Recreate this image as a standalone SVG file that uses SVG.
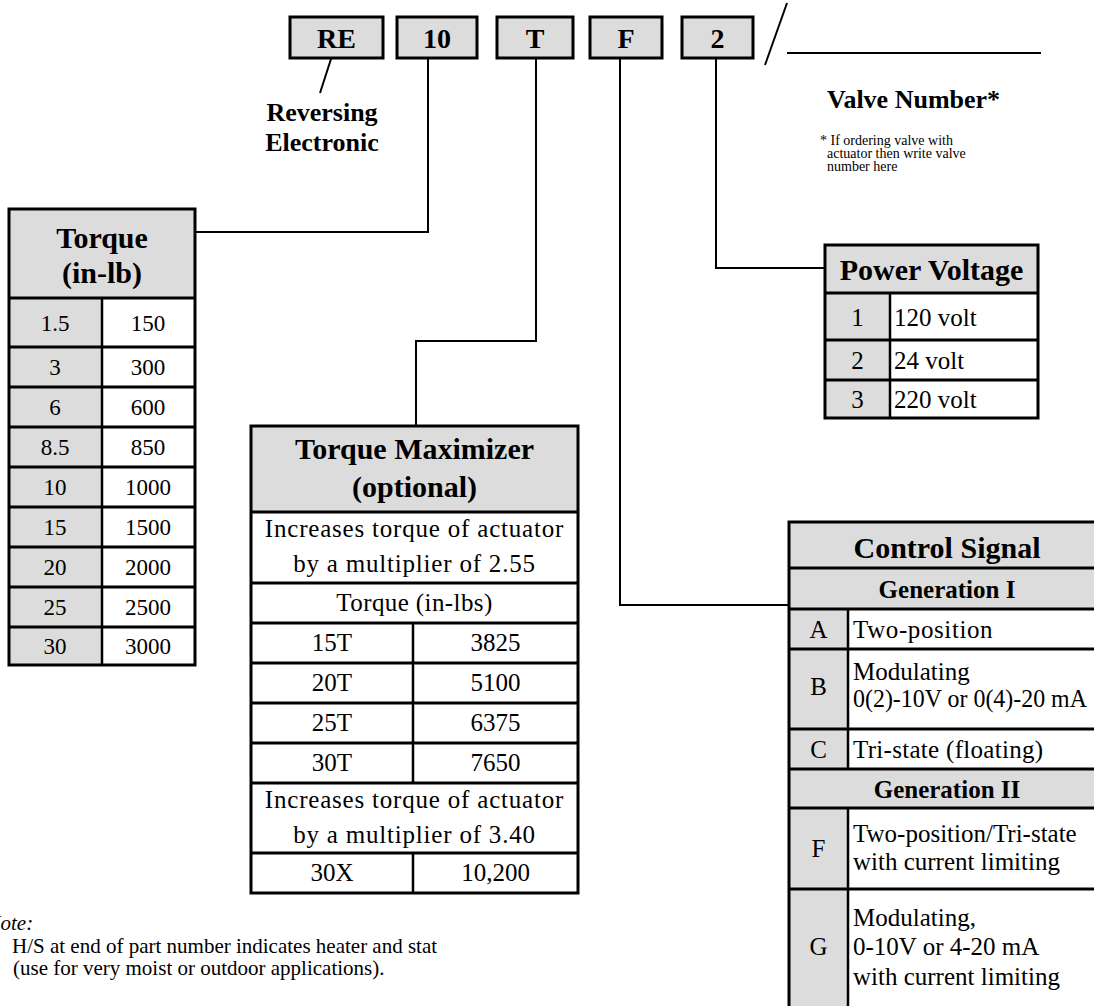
<svg xmlns="http://www.w3.org/2000/svg" width="1094" height="1006" viewBox="0 0 1094 1006">
<style>
.t{font-family:"Liberation Serif","Times New Roman",serif;fill:#000}
.b{font-weight:bold}
.c{text-anchor:middle}
.g{fill:#dcdcdc}
.frame{fill:none;stroke:#000;stroke-width:3}
.rule{fill:none;stroke:#000;stroke-width:3}
.div{fill:none;stroke:#000;stroke-width:2.5}
.box{fill:#dcdcdc;stroke:#000;stroke-width:3}
.conn{fill:none;stroke:#000;stroke-width:2}
.hd{font-size:30px}
.bd{font-size:25px}
.ls{letter-spacing:0.8px}
</style>
<rect width="1094" height="1006" fill="#fff"/>

<g id="connectors">
<path class="conn" d="M331,59L320,93"/>
<path class="conn" d="M428,58V232H188"/>
<path class="conn" d="M536,58V341H416V426"/>
<path class="conn" d="M620,58V605H789"/>
<path class="conn" d="M716,58V268H825"/>
</g>

<g id="box-RE"><rect class="box" x="290" y="17" width="93" height="41"/><text class="t b c" x="336.5" y="48" font-size="28">RE</text></g>
<g id="box-10"><rect class="box" x="397" y="17" width="80" height="41"/><text class="t b c" x="437" y="48" font-size="28">10</text></g>
<g id="box-T"><rect class="box" x="497" y="17" width="76" height="41"/><text class="t b c" x="535" y="48" font-size="28">T</text></g>
<g id="box-F"><rect class="box" x="590" y="17" width="72" height="41"/><text class="t b c" x="626" y="48" font-size="28">F</text></g>
<g id="box-2"><rect class="box" x="682" y="17" width="71" height="41"/><text class="t b c" x="717.5" y="48" font-size="28">2</text></g>

<g id="label-reversing">
<text class="t b c" x="322" y="121" font-size="26">Reversing</text>
<text class="t b c" x="322" y="151" font-size="26">Electronic</text>
</g>

<g id="valve-number">
<path class="conn" d="M787,3L765,65"/>
<path class="conn" d="M787,53H1041"/>
<text class="t b" x="827" y="108" font-size="26">Valve Number*</text>
<text class="t" x="820" y="145" font-size="14">* If ordering valve with</text>
<text class="t" x="827" y="158" font-size="14">actuator then write valve</text>
<text class="t" x="827" y="171" font-size="14">number here</text>
</g>

<g id="table-torque">
<rect class="g" x="9" y="209" width="186" height="89"/>
<rect class="g" x="9" y="298" width="93" height="367"/>
<rect class="frame" x="9" y="209" width="186" height="456"/>
<path class="rule" d="M9,298H195M9,347H195M9,387H195M9,427H195M9,467H195M9,507H195M9,547H195M9,587H195M9,627H195"/>
<path class="div" d="M102,298V665"/>
<text class="t b c hd" x="102" y="248">Torque</text>
<text class="t b c hd" x="102" y="283">(in-lb)</text>
<g class="t c" font-size="23">
<text x="55" y="331">1.5</text><text x="148" y="331">150</text>
<text x="55" y="375">3</text><text x="148" y="375">300</text>
<text x="55" y="415">6</text><text x="148" y="415">600</text>
<text x="55" y="455">8.5</text><text x="148" y="455">850</text>
<text x="55" y="495">10</text><text x="148" y="495">1000</text>
<text x="55" y="535">15</text><text x="148" y="535">1500</text>
<text x="55" y="575">20</text><text x="148" y="575">2000</text>
<text x="55" y="615">25</text><text x="148" y="615">2500</text>
<text x="55" y="654">30</text><text x="148" y="654">3000</text>
</g>
</g>

<g id="table-maximizer">
<rect class="g" x="251" y="426" width="327" height="86"/>
<rect class="frame" x="251" y="426" width="327" height="467"/>
<path class="rule" d="M251,512H578M251,583H578M251,623H578M251,663H578M251,703H578M251,743H578M251,783H578M251,853H578"/>
<path class="div" d="M413,623V783M413,853V893"/>
<text class="t b c hd" x="414.5" y="459">Torque Maximizer</text>
<text class="t b c hd" x="414.5" y="497">(optional)</text>
<g class="t c bd">
<text class="ls" x="414.5" y="537">Increases torque of actuator</text>
<text class="ls" x="414.5" y="572">by a multiplier of 2.55</text>
<text x="414.5" y="611" letter-spacing="0.4">Torque (in-lbs)</text>
<text x="332" y="651">15T</text><text x="495.5" y="651">3825</text>
<text x="332" y="691">20T</text><text x="495.5" y="691">5100</text>
<text x="332" y="731">25T</text><text x="495.5" y="731">6375</text>
<text x="332" y="771">30T</text><text x="495.5" y="771">7650</text>
<text class="ls" x="414.5" y="808">Increases torque of actuator</text>
<text class="ls" x="414.5" y="843">by a multiplier of 3.40</text>
<text x="332" y="881">30X</text><text x="495.5" y="881">10,200</text>
</g>
</g>

<g id="table-power">
<rect class="g" x="825" y="245" width="213" height="48"/>
<rect class="g" x="825" y="293" width="65" height="125"/>
<rect class="frame" x="825" y="245" width="213" height="173"/>
<path class="rule" d="M825,293H1038M825,340H1038M825,380H1038"/>
<path class="div" d="M890,293V418"/>
<text class="t b c hd" x="931.5" y="280">Power Voltage</text>
<g class="t bd">
<text class="c" x="857.5" y="326">1</text><text x="894" y="326">120 volt</text>
<text class="c" x="857.5" y="369">2</text><text x="894" y="369">24 volt</text>
<text class="c" x="857.5" y="408">3</text><text x="894" y="408">220 volt</text>
</g>
</g>

<g id="table-control">
<rect class="g" x="789" y="522" width="320" height="87"/>
<rect class="g" x="789" y="769" width="320" height="39"/>
<rect class="g" x="789" y="609" width="59" height="420"/>
<rect class="frame" x="789" y="522" width="320" height="507"/>
<path class="rule" d="M789,568H1100M789,609H1100M789,649H1100M789,729H1100M789,769H1100M789,808H1100M789,889H1100"/>
<path class="div" d="M848,609V769M848,808V1029"/>
<text class="t b c hd" x="947" y="558">Control Signal</text>
<text class="t b c" x="947" y="598" font-size="25">Generation I</text>
<text class="t b c" x="947" y="798" font-size="25">Generation II</text>
<g class="t bd">
<text class="c" x="818.5" y="638">A</text><text x="853" y="638" letter-spacing="0.6">Two-position</text>
<text class="c" x="818.5" y="695">B</text><text x="853" y="680">Modulating</text><text x="853" y="707" textLength="234" lengthAdjust="spacingAndGlyphs">0(2)-10V or 0(4)-20 mA</text>
<text class="c" x="818.5" y="758">C</text><text x="853" y="758" letter-spacing="0.3">Tri-state (floating)</text>
<text class="c" x="818.5" y="857">F</text><text x="853" y="842">Two-position/Tri-state</text><text x="853" y="870">with current limiting</text>
<text class="c" x="818.5" y="955">G</text><text x="853" y="926">Modulating,</text><text x="853" y="955">0-10V or 4-20 mA</text><text x="853" y="985">with current limiting</text>
</g>
</g>

<g id="note">
<text class="t" x="-13.5" y="930" font-size="21" font-style="italic">Note:</text>
<text class="t" x="12" y="953" font-size="21">H/S at end of part number indicates heater and stat</text>
<text class="t" x="13" y="975" font-size="21">(use for very moist or outdoor applications).</text>
</g>
</svg>
